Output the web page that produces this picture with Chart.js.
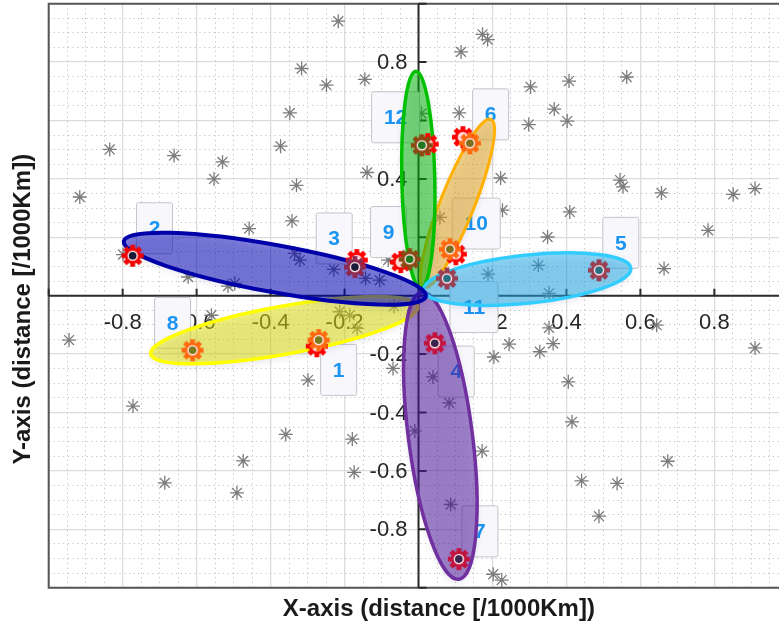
<!DOCTYPE html>
<html><head><meta charset="utf-8">
<script src="https://cdn.jsdelivr.net/npm/chart.js@4.4.0/dist/chart.umd.min.js"></script>
<style>html,body{margin:0;padding:0;overflow:hidden;background:#fff;}#wrap{width:835px;height:630px;}</style>
</head><body><div id="wrap"><canvas id="c" width="835" height="630"></canvas></div>
<script>
// ---------- DATA ----------
const starX = [-0.835,-0.661,-0.530,-0.553,-0.916,-0.217,-0.316,-0.249,-0.145,-0.348,-0.373,-0.330,-0.139,0.008,0.110,0.115,0.173,0.187,0.222,0.303,0.407,0.563,0.367,0.298,0.402,0.545,0.553,0.657,0.851,0.910,0.409,0.349,0.783,0.324,0.664,0.353,0.353,0.644,0.364,0.328,0.910,0.405,0.415,0.674,0.441,0.537,0.488,-0.359,-0.179,-0.174,0.083,-0.010,0.172,0.087,0.202,0.225,-0.772,-0.474,-0.686,-0.491,-0.458,-0.623,-0.515,-0.497,-0.799,-0.945,-0.560,-0.342,-0.335,-0.321,-0.229,-0.143,-0.105,-0.082,-0.213,-0.186,-0.166,-0.066,-0.299,-0.069,0.039,0.058,0.227,0.188,0.245,0.204];
const starY = [0.501,0.480,0.458,0.400,0.338,0.940,0.778,0.721,0.741,0.626,0.512,0.378,0.422,0.624,0.626,0.835,0.895,0.877,0.403,0.715,0.735,0.749,0.639,0.586,0.598,0.396,0.373,0.352,0.347,0.367,0.287,0.201,0.224,0.104,0.093,0.008,-0.110,-0.101,-0.164,-0.192,-0.179,-0.295,-0.432,-0.567,-0.634,-0.643,-0.755,-0.475,-0.491,-0.605,-0.367,-0.463,-0.532,-0.715,-0.954,-0.974,-0.378,-0.566,-0.641,-0.675,0.230,0.064,0.033,0.042,0.141,-0.152,-0.067,0.256,0.145,0.122,0.090,0.059,0.053,0.122,-0.055,-0.067,-0.112,-0.036,-0.289,-0.249,-0.278,0.268,0.293,0.074,-0.166,-0.210];

const siteLabels = ['1','2','3','4','5','6','7','8','9','10','11','12'];
const siteX = [-0.270,-0.773,-0.172,0.044,0.488,0.139,0.109,-0.611,-0.024,0.085,0.077,0.009];
const siteY = [-0.152,0.137,0.098,-0.163,0.087,0.522,-0.902,-0.187,0.125,0.159,0.059,0.515];
const siteGroup = ['yellow','blue','blue','purple','cyan','orange','purple','yellow','green','orange','cyan','green'];

const redX = [-0.275,-0.167,0.120,-0.048,0.101,0.025];
const redY = [-0.173,0.122,0.543,0.115,0.142,0.519];

const boxX = [-0.216,-0.714,-0.228,0.102,0.547,0.195,0.166,-0.665,-0.081,0.156,0.150,-0.062];
const boxY = [-0.254,0.231,0.196,-0.260,0.181,0.621,-0.807,-0.093,0.218,0.247,-0.039,0.611];

const petalNames = ['yellow','purple','orange','green','cyan','blue'];
const petalBaseX = [-0.002,0.009,0.015,0.006,0.014,0.020];
const petalBaseY = [-0.036,0.012,0.029,0.026,0.019,-0.002];
const petalTipX  = [-0.724,0.109,0.196,-0.007,0.574,-0.797];
const petalTipY  = [-0.200,-0.971,0.604,0.769,0.094,0.187];

const xTickValues = [-0.8,-0.6,-0.4,-0.2,0.2,0.4,0.6,0.8];
const xTickLabels = ['-0.8','-0.6','-0.4','-0.2','0.2','0.4','0.6','0.8'];
const yTickValues = [0.8,0.6,0.4,0.2,-0.2,-0.4,-0.6,-0.8];
const yTickLabels = ['0.8','0.6','0.4','0.2','-0.2','-0.4','-0.6','-0.8'];
const tickMarkValues = [-1,-0.8,-0.6,-0.4,-0.2,0.2,0.4,0.6,0.8,1];
const xTitle = 'X-axis (distance [/1000Km])';
const yTitle = 'Y-axis (distance [/1000Km])';

// ---------- STYLES ----------
const petalStroke = {yellow:'#FFFF00',purple:'#7030A0',orange:'#FFB000',green:'#00C000',cyan:'#33CCFF',blue:'#0000A8'};
const petalFill = {yellow:'rgba(230,230,5,0.5)',purple:'rgba(80,20,155,0.5)',orange:'rgba(235,170,20,0.5)',green:'rgba(0,190,0,0.5)',cyan:'rgba(30,175,235,0.5)',blue:'rgba(0,0,185,0.5)'};
const petalHalfWidth = {yellow:24,purple:32,orange:17,green:16.5,cyan:24,blue:23.5};
const petalLineWidth = {yellow:3.5,purple:3.5,orange:3,green:3.5,cyan:3.5,blue:4};
const dotColor = {yellow:'#7A7A1E',blue:'#1A1A3A',purple:'#3C2450',cyan:'#2A6F84',orange:'#7D6E1E',green:'#1F7A1F'};
const gearColor = ['#FF6A10','#F20000','#8E2A50','#C2143F','#9A4055','#FF6A10','#C2143F','#FF6A10','#8B4A14','#FF6A10','#9A4055','#8B4A14'];

function gearImg(color){
  const c=document.createElement('canvas'); c.width=c.height=26;
  const g=c.getContext('2d'); g.translate(13,13); g.fillStyle=color;
  for(let k=0;k<8;k++){g.save();g.rotate(k*Math.PI/4);g.fillRect(-2.4,-11,4.8,6);g.restore();}
  g.beginPath(); g.arc(0,0,8,0,2*Math.PI); g.fill();
  g.fillStyle='rgba(255,236,236,0.92)'; g.beginPath(); g.arc(0,0,5.3,0,2*Math.PI); g.fill();
  return c;
}
const pts=(xs,ys)=>xs.map((v,i)=>({x:v,y:ys[i]}));
const isMajor=v=>Math.abs(v/0.2-Math.round(v/0.2))<1e-6;

const decor={
  id:'decor',
  beforeDatasetsDraw(chart){
    const {ctx,chartArea:a,scales:{x,y}}=chart;
    ctx.save();
    const x0=x.getPixelForValue(0), y0=y.getPixelForValue(0);
    ctx.strokeStyle='#555'; ctx.lineWidth=2;
    ctx.beginPath(); ctx.moveTo(a.right+5,a.top); ctx.lineTo(a.left,a.top); ctx.lineTo(a.left,a.bottom); ctx.lineTo(a.right+5,a.bottom); ctx.stroke();
    ctx.strokeStyle='#2b2b2b'; ctx.lineWidth=2;
    ctx.beginPath(); ctx.moveTo(a.left,y0); ctx.lineTo(a.right,y0); ctx.moveTo(x0,a.top); ctx.lineTo(x0,a.bottom); ctx.stroke();
    ctx.beginPath();
    tickMarkValues.forEach(v=>{const px=x.getPixelForValue(v);ctx.moveTo(px,y0);ctx.lineTo(px,y0-7);const py=y.getPixelForValue(v);ctx.moveTo(x0,py);ctx.lineTo(x0+8,py);});
    ctx.stroke();
    ctx.font='22px "Liberation Sans", Arial, sans-serif'; ctx.fillStyle='#262626';
    ctx.textAlign='center'; ctx.textBaseline='middle';
    xTickValues.forEach((v,i)=>ctx.fillText(xTickLabels[i],x.getPixelForValue(v),y0+27));
    ctx.textAlign='right';
    yTickValues.forEach((v,i)=>ctx.fillText(yTickLabels[i],x0-11,y.getPixelForValue(v)+1));
    ctx.restore();
  },
  afterDatasetDraw(chart,args){
    if(args.index!==0) return;
    const {ctx,scales:{x,y}}=chart;
    ctx.save();
    siteLabels.forEach((t,i)=>{
      const cx=x.getPixelForValue(boxX[i]), cy=y.getPixelForValue(boxY[i]);
      const w=t.length>1?48:36, h=51;
      ctx.beginPath(); ctx.roundRect(cx-w/2,cy-h/2,w,h,2);
      ctx.fillStyle='#F7F7FC'; ctx.fill(); ctx.strokeStyle='#C4C4CA'; ctx.lineWidth=1; ctx.stroke();
      ctx.fillStyle='#1C94F2'; ctx.font='bold 21px "Liberation Sans", Arial, sans-serif';
      ctx.textAlign='center'; ctx.textBaseline='middle'; ctx.fillText(t,cx,cy+1);
    });
    petalNames.forEach((n,i)=>{
      const bx=x.getPixelForValue(petalBaseX[i]), by=y.getPixelForValue(petalBaseY[i]);
      const tx=x.getPixelForValue(petalTipX[i]), ty=y.getPixelForValue(petalTipY[i]);
      const cx=(bx+tx)/2, cy=(by+ty)/2, rx=Math.hypot(tx-bx,ty-by)/2, ang=Math.atan2(ty-by,tx-bx);
      ctx.beginPath(); ctx.ellipse(cx,cy,rx,petalHalfWidth[n],ang,0,2*Math.PI);
      ctx.save(); ctx.shadowColor='rgba(0,0,90,0.22)'; ctx.shadowBlur=9; ctx.shadowOffsetY=3;
      ctx.fillStyle=petalFill[n]; ctx.fill(); ctx.restore();
      ctx.lineWidth=petalLineWidth[n]; ctx.strokeStyle=petalStroke[n]; ctx.stroke();
    });
    ctx.restore();
  },
  afterDraw(chart){
    const {ctx,chartArea:a}=chart;
    ctx.save();
    ctx.font='bold 24px "Liberation Sans", Arial, sans-serif'; ctx.fillStyle='#1a1a1a';
    ctx.textAlign='center'; ctx.textBaseline='middle';
    ctx.fillText(xTitle,(a.left+a.right)/2,a.bottom+22);
    ctx.translate(23.5,(a.top+a.bottom)/2+13.5); ctx.rotate(-Math.PI/2);
    ctx.fillText(yTitle,0,0);
    ctx.restore();
  }
};

const minorGrid={color:c=>isMajor(c.tick.value)?'rgba(0,0,0,0)':'#c2c2c2',drawTicks:false,lineWidth:1};
new Chart(document.getElementById('c'),{
  type:'scatter',
  data:{datasets:[
    {label:'stations',data:pts(starX,starY),pointStyle:'star',radius:7,borderColor:'#7c7c7c',borderWidth:1.3,backgroundColor:'#7c7c7c',order:3},
    {label:'sources',data:pts(redX,redY),pointStyle:redX.map(()=>gearImg('#FF0000')),radius:11,order:2},
    {label:'sites',data:pts(siteX,siteY),pointStyle:gearColor.map(gearImg),radius:11,order:1},
    {label:'centres',data:pts(siteX,siteY),pointStyle:'circle',radius:3.8,borderWidth:0,backgroundColor:siteGroup.map(g=>dotColor[g]),order:0}
  ]},
  options:{
    responsive:false,devicePixelRatio:1,animation:false,events:[],
    layout:{autoPadding:false,padding:{left:48.7,top:3.7,right:6,bottom:42.3}},
    plugins:{legend:{display:false},tooltip:{enabled:false}},
    scales:{
      x:{type:'linear',min:-1,max:1.11,ticks:{display:false,stepSize:0.2},grid:{color:'#dcdcdc',drawTicks:false,lineWidth:1.3},border:{display:false}},
      y:{type:'linear',min:-1,max:1,ticks:{display:false,stepSize:0.2},grid:{color:'#dcdcdc',drawTicks:false,lineWidth:1.3},border:{display:false}},
      xm:{type:'linear',axis:'x',position:'bottom',min:-1,max:1.11,ticks:{display:false,stepSize:0.05},grid:minorGrid,border:{display:false,dash:[1.2,3.5]}},
      ym:{type:'linear',axis:'y',position:'left',min:-1,max:1,ticks:{display:false,stepSize:0.05},grid:minorGrid,border:{display:false,dash:[1.2,3.5]}}
    }
  },
  plugins:[decor]
});
</script></body></html>
